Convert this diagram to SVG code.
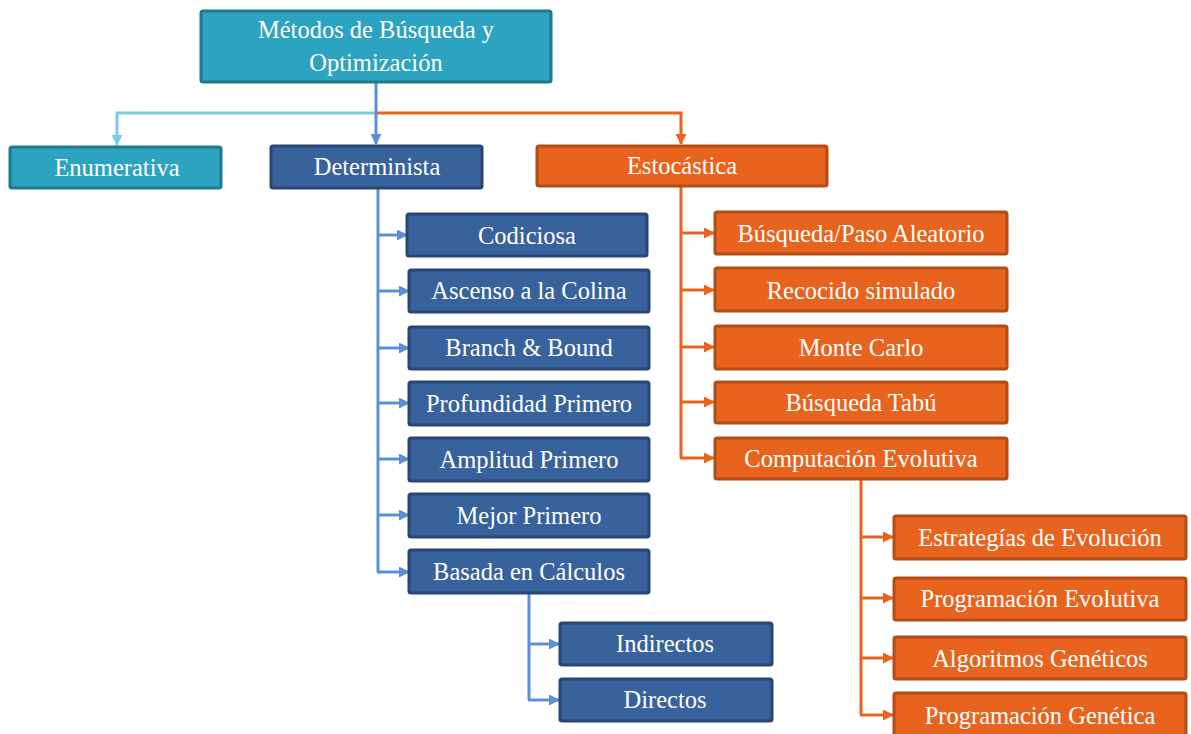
<svg xmlns="http://www.w3.org/2000/svg" width="1191" height="734" viewBox="0 0 1191 734">
  <style>
    .teal rect { fill: #2CA3C0; stroke: #1F7A8E; stroke-width: 3; }
    .blue rect { fill: #38629C; stroke: #284774; stroke-width: 3; }
    .orange rect { fill: #E8641E; stroke: #B34D17; stroke-width: 3; }
    text { font-family: "Liberation Serif", "Times New Roman", serif; font-size: 24.5px; fill: #FFFFFF; text-anchor: middle; dominant-baseline: central; }
    .c { fill: none; stroke-width: 3; }
    .cl { stroke: #7CCBE1; }
    .cb { stroke: #5A8FD8; }
    .co { stroke: #E8641E; }
  </style>
  <defs>
    <marker id="aL" markerWidth="11" markerHeight="11" refX="10" refY="5.5" orient="auto" markerUnits="userSpaceOnUse">
      <path d="M0,0 L11,5.5 L0,11 Z" fill="#7CCBE1"/>
    </marker>
    <marker id="aB" markerWidth="11" markerHeight="11" refX="10" refY="5.5" orient="auto" markerUnits="userSpaceOnUse">
      <path d="M0,0 L11,5.5 L0,11 Z" fill="#5A8FD8"/>
    </marker>
    <marker id="aO" markerWidth="11" markerHeight="11" refX="10" refY="5.5" orient="auto" markerUnits="userSpaceOnUse">
      <path d="M0,0 L11,5.5 L0,11 Z" fill="#E8641E"/>
    </marker>
  </defs>

  <g id="connectors">
    <!-- root to first level -->
    <polyline class="c cl" points="376,113 117,113 117,145" marker-end="url(#aL)"/>
    <polyline class="c co" points="376,113 681,113 681,144" marker-end="url(#aO)"/>
    <polyline class="c cb" points="376,82 376,144" marker-end="url(#aB)"/>
    <!-- Determinista branch -->
    <polyline class="c cb" points="378,189 378,572"/>
    <line class="c cb" x1="378" y1="235" x2="407" y2="235" marker-end="url(#aB)"/>
    <line class="c cb" x1="378" y1="291" x2="409" y2="291" marker-end="url(#aB)"/>
    <line class="c cb" x1="378" y1="348" x2="409" y2="348" marker-end="url(#aB)"/>
    <line class="c cb" x1="378" y1="403" x2="409" y2="403" marker-end="url(#aB)"/>
    <line class="c cb" x1="378" y1="459" x2="409" y2="459" marker-end="url(#aB)"/>
    <line class="c cb" x1="378" y1="515" x2="409" y2="515" marker-end="url(#aB)"/>
    <line class="c cb" x1="377" y1="572" x2="409" y2="572" marker-end="url(#aB)"/>
    <!-- Basada en Cálculos branch -->
    <polyline class="c cb" points="529,594 529,700"/>
    <line class="c cb" x1="529" y1="644" x2="559" y2="644" marker-end="url(#aB)"/>
    <line class="c cb" x1="528" y1="700" x2="559" y2="700" marker-end="url(#aB)"/>
    <!-- Estocástica branch -->
    <polyline class="c co" points="681,187 681,458"/>
    <line class="c co" x1="681" y1="233" x2="714" y2="233" marker-end="url(#aO)"/>
    <line class="c co" x1="681" y1="290" x2="714" y2="290" marker-end="url(#aO)"/>
    <line class="c co" x1="681" y1="347" x2="714" y2="347" marker-end="url(#aO)"/>
    <line class="c co" x1="681" y1="402" x2="714" y2="402" marker-end="url(#aO)"/>
    <line class="c co" x1="680" y1="458" x2="714" y2="458" marker-end="url(#aO)"/>
    <!-- Computación Evolutiva branch -->
    <polyline class="c co" points="861,480 861,715"/>
    <line class="c co" x1="861" y1="537" x2="893" y2="537" marker-end="url(#aO)"/>
    <line class="c co" x1="861" y1="598" x2="893" y2="598" marker-end="url(#aO)"/>
    <line class="c co" x1="861" y1="658" x2="893" y2="658" marker-end="url(#aO)"/>
    <line class="c co" x1="860" y1="715" x2="893" y2="715" marker-end="url(#aO)"/>
  </g>

  <g id="root" class="teal">
    <rect x="201" y="11" width="350" height="71" rx="2"/>
    <text x="376" y="29">Métodos de Búsqueda y</text>
    <text x="376" y="62">Optimización</text>
  </g>
  <g id="enumerativa" class="teal">
    <rect x="10" y="147" width="211" height="41" rx="2"/>
    <text x="117" y="167">Enumerativa</text>
  </g>
  <g id="determinista" class="blue">
    <rect x="271" y="146" width="211" height="42" rx="2"/>
    <text x="377" y="166">Determinista</text>
  </g>
  <g id="estocastica" class="orange">
    <rect x="537" y="146" width="290" height="40" rx="2"/>
    <text x="682" y="165">Estocástica</text>
  </g>

  <g id="codiciosa" class="blue">
    <rect x="407" y="214" width="240" height="42" rx="2"/>
    <text x="527" y="235">Codiciosa</text>
  </g>
  <g id="ascenso" class="blue">
    <rect x="409" y="270" width="240" height="42" rx="2"/>
    <text x="529" y="290">Ascenso a la Colina</text>
  </g>
  <g id="branch" class="blue">
    <rect x="409" y="327" width="240" height="42" rx="2"/>
    <text x="529" y="347">Branch &amp; Bound</text>
  </g>
  <g id="profundidad" class="blue">
    <rect x="409" y="382" width="240" height="43" rx="2"/>
    <text x="529" y="403">Profundidad Primero</text>
  </g>
  <g id="amplitud" class="blue">
    <rect x="409" y="438" width="240" height="43" rx="2"/>
    <text x="529" y="459">Amplitud Primero</text>
  </g>
  <g id="mejor" class="blue">
    <rect x="409" y="494" width="240" height="43" rx="2"/>
    <text x="529" y="515">Mejor Primero</text>
  </g>
  <g id="basada" class="blue">
    <rect x="409" y="550" width="240" height="43" rx="2"/>
    <text x="529" y="571">Basada en Cálculos</text>
  </g>
  <g id="indirectos" class="blue">
    <rect x="560" y="623" width="212" height="42" rx="2"/>
    <text x="665" y="643">Indirectos</text>
  </g>
  <g id="directos" class="blue">
    <rect x="560" y="679" width="212" height="42" rx="2"/>
    <text x="665" y="699">Directos</text>
  </g>

  <g id="busqueda-paso" class="orange">
    <rect x="715" y="212" width="292" height="42" rx="2"/>
    <text x="861" y="233">Búsqueda/Paso Aleatorio</text>
  </g>
  <g id="recocido" class="orange">
    <rect x="715" y="268" width="292" height="43" rx="2"/>
    <text x="861" y="290">Recocido simulado</text>
  </g>
  <g id="monte-carlo" class="orange">
    <rect x="715" y="326" width="292" height="43" rx="2"/>
    <text x="861" y="347">Monte Carlo</text>
  </g>
  <g id="tabu" class="orange">
    <rect x="715" y="382" width="292" height="41" rx="2"/>
    <text x="861" y="402">Búsqueda Tabú</text>
  </g>
  <g id="computacion" class="orange">
    <rect x="715" y="438" width="292" height="41" rx="2"/>
    <text x="861" y="458">Computación Evolutiva</text>
  </g>

  <g id="estrategias" class="orange">
    <rect x="894" y="516" width="292" height="43" rx="2"/>
    <text x="1040" y="537">Estrategías de Evolución</text>
  </g>
  <g id="prog-evolutiva" class="orange">
    <rect x="894" y="578" width="292" height="42" rx="2"/>
    <text x="1040" y="598">Programación Evolutiva</text>
  </g>
  <g id="algoritmos" class="orange">
    <rect x="894" y="637" width="292" height="42" rx="2"/>
    <text x="1040" y="658">Algoritmos Genéticos</text>
  </g>
  <g id="prog-genetica" class="orange">
    <rect x="894" y="693" width="292" height="45" rx="2"/>
    <text x="1040" y="715">Programación Genética</text>
  </g>
</svg>
